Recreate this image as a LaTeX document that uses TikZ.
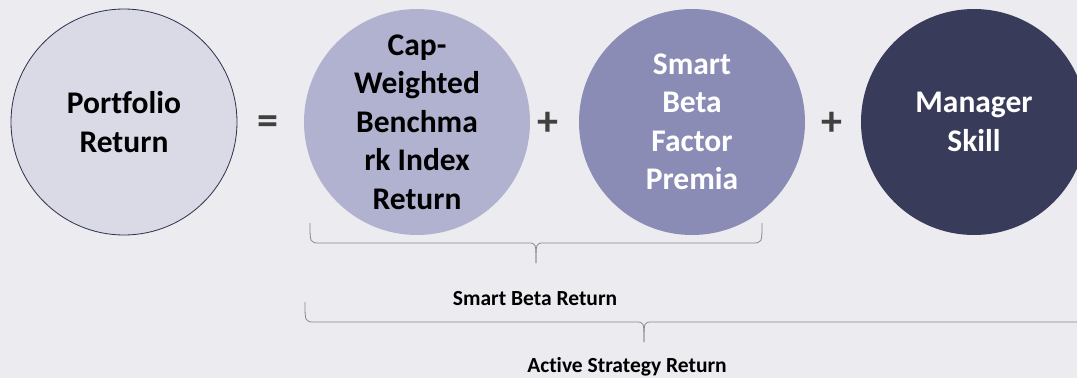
\documentclass[tikz,border=0pt]{standalone}
\usepackage{fontspec}
\setmainfont{Carlito}[Ligatures=NoCommon]
\usepackage{tikz}
\usetikzlibrary{positioning}
\definecolor{paper}{HTML}{EBEBF0}
\definecolor{portfill}{HTML}{D9DAE6}
\definecolor{portline}{HTML}{2E3048}
\definecolor{capfill}{HTML}{B1B2D0}
\definecolor{factorfill}{HTML}{8A8CB6}
\definecolor{skillfill}{HTML}{393B5A}
\definecolor{opgray}{HTML}{404040}
\definecolor{bracegray}{HTML}{8A8A8A}
\tikzstyle{term} = [circle, minimum size=226pt, inner sep=0pt, align=center, font=\bfseries\fontsize{31.5}{38.5}\selectfont]
\tikzstyle{op} = [inner sep=0pt, text=opgray, font=\bfseries\fontsize{42}{42}\selectfont]
\tikzstyle{sumlabel} = [inner sep=0pt, font=\bfseries\fontsize{21.5}{26}\selectfont]
\tikzstyle{brace} = [line width=0.8pt, bracegray]

\begin{document}
\begin{tikzpicture}[x=1pt,y=-1pt]
			\clip (0,0) rectangle (1077,378);
			\fill[paper] (0,0) rectangle (1077,378);
			% the four terms of the sum
			\node[term, fill=portfill, draw=portline, line width=0.8pt] (portfolio) at (124,122) {Portfolio\\Return};
			\node[term, fill=capfill] (capweighted) at (417,122) {Cap-\\Weighted\\Benchma\\rk Index\\Return};
			\node[term, fill=factorfill, text=white] (factor) at (692,122) {Smart\\Beta\\Factor\\Premia};
			\node[term, fill=skillfill, text=white] (skill) at (974,122) {Manager\\Skill};
			\node[op] (equals) at (268,125) {=};
			\node[op] (plusA) at (548,124) {+};
			\node[op] (plusB) at (832,124) {+};
			% brace under the first two terms
			\draw[brace] (310,223) .. controls (310,243) .. (320,243) -- (528,243) .. controls (536,243) .. (536,263);
			\draw[brace] (762,223) .. controls (762,243) .. (752,243) -- (544,243) .. controls (536,243) .. (536,263);
			\node[sumlabel] (smartbeta) at (535,299) {Smart Beta Return};
			% brace under all three terms
			\draw[brace] (305,302) .. controls (305,322) .. (315,322) -- (636,322) .. controls (644,322) .. (644,342);
			\draw[brace] (1095,322) -- (652,322) .. controls (644,322) .. (644,342);
			\node[sumlabel] (active) at (627,367) {Active Strategy Return};
		\end{tikzpicture}
\end{document}
